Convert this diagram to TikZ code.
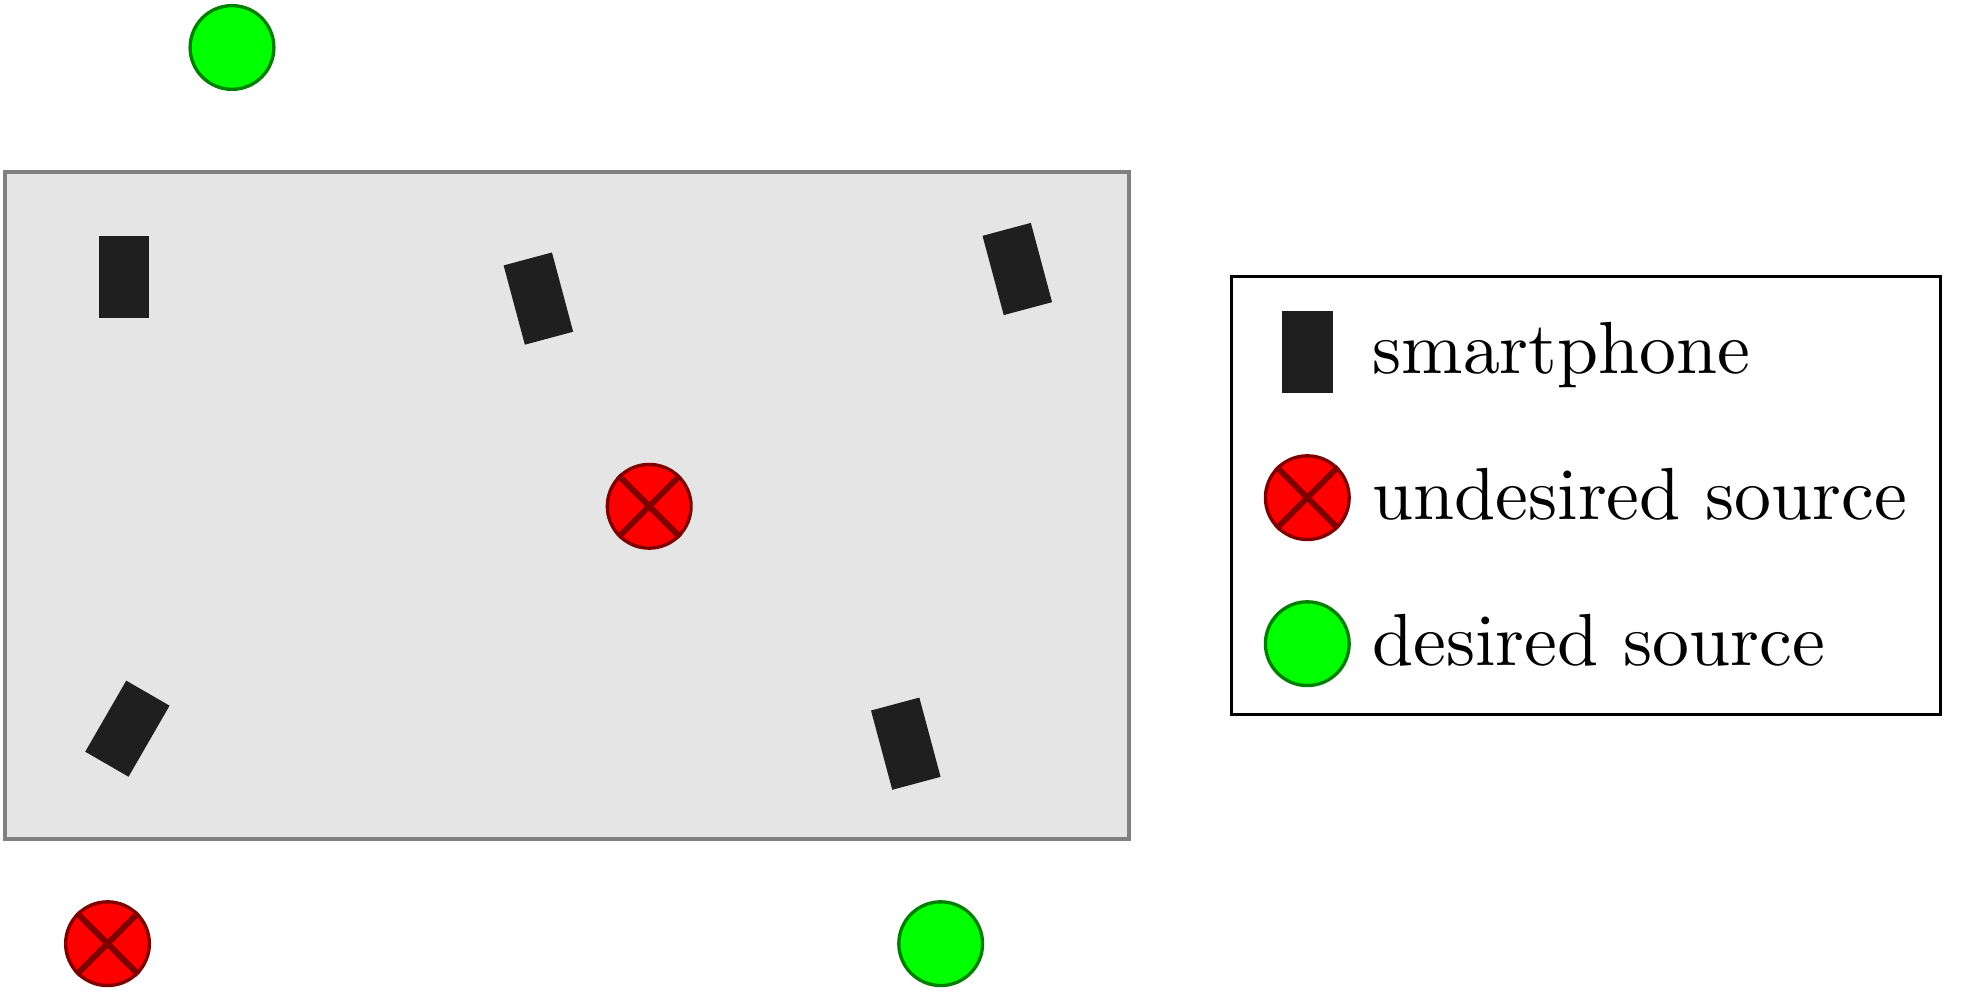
\documentclass[tikz,border=0pt]{standalone}
\usepackage{fontspec}
\setmainfont{lmroman10-regular.otf}
\usepackage{tikz}

\begin{document}
\begin{tikzpicture}[x=0.01cm, y=-0.01cm,
    phone/.style = {fill=black!88, minimum width=0.5cm, minimum height=0.82cm, inner sep=0},
    src/.style = {circle, line width=0.95pt, minimum size=0.837cm, inner sep=0},
    undesired/.style = {src, draw=red!50!black, fill=red},
    desired/.style = {src, draw=green!50!black, fill=green},
    cross/.style = {draw=red!50!black, line width=1.7pt},
    legendtext/.style = {anchor=base west, inner sep=0, font=\fontsize{21}{25}\selectfont}]
\useasboundingbox (0,0) rectangle (1971,992);

% room
\draw[draw=gray, fill=black!10, line width=1.13pt] (4.7,172.3) rectangle (1129,839);

% smartphones
\node[phone] (p1) at (124,277) {};
\node[phone, rotate=15] (p2) at (538.4,298.6) {};
\node[phone, rotate=15] (p3) at (1017.3,269) {};
\node[phone, rotate=-30] (p4) at (127.4,728.7) {};
\node[phone, rotate=15] (p5) at (905.8,743.7) {};

% sources
\node[desired] (d1) at (232,47.5) {};
\node[desired] (d2) at (940.7,943.7) {};
\node[undesired] (u1) at (649.2,506.3) {};
\node[undesired] (u2) at (107.5,943.7) {};

% legend
\draw[line width=0.85pt] (1231.7,276.7) rectangle (1940.7,714.3);
\node[phone] (lp) at (1307.5,352.3) {};
\node[undesired] (lu) at (1307.3,497.7) {};
\node[desired] (ld) at (1307.3,643.7) {};
\node[legendtext] (tp) at (1371.7,374) {smartphone};
\node[legendtext] (tu) at (1371.7,519.3) {undesired source};
\node[legendtext] (td) at (1371.7,666) {desired source};

\foreach \u in {u1,u2,lu} {
  \draw[cross] (\u.45) -- (\u.225);
  \draw[cross] (\u.135) -- (\u.-45);
}
\end{tikzpicture}
\end{document}
